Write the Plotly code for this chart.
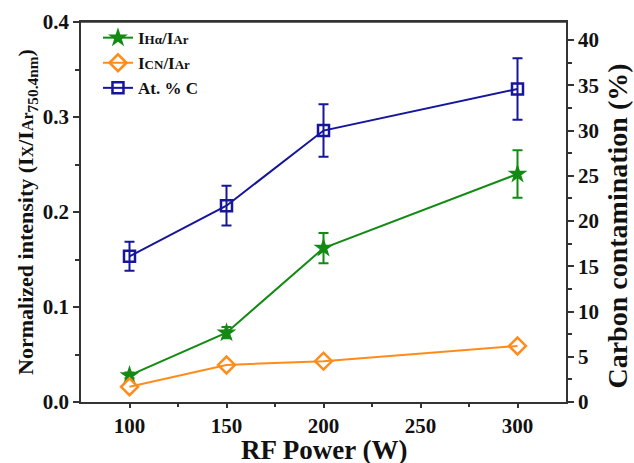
import plotly.graph_objects as go

power = [100, 150, 200, 300]
h_alpha = [0.028, 0.073, 0.162, 0.240]
h_alpha_err = [0.003, 0.006, 0.016, 0.025]
cn = [0.016, 0.039, 0.043, 0.059]
at_c = [16.1, 21.7, 30.0, 34.6]
at_c_err = [1.6, 2.2, 2.9, 3.4]

x_ticks = [100, 150, 200, 250, 300]
y_ticks = [0.0, 0.1, 0.2, 0.3, 0.4]
y2_ticks = [0, 5, 10, 15, 20, 25, 30, 35, 40]

green = "#138a13"
orange = "#ff8c1a"
blue = "#16169c"
font = "Liberation Serif"

def small(t, s=13):
    return f"<span style='font-size:{s}px'><b>{t}</b></span>"

fig = go.Figure()
fig.add_trace(go.Scatter(
    x=power, y=h_alpha, mode="lines+markers", name="<b>I</b>" + small("Hα") + "<b>/I</b>" + small("Ar"),
    line=dict(color=green, width=2), marker=dict(symbol="star", size=15, color=green),
    error_y=dict(type="data", array=h_alpha_err, color=green, thickness=2, width=5)))
fig.add_trace(go.Scatter(
    x=power, y=cn, mode="lines+markers", name="<b>I</b>" + small("CN") + "<b>/I</b>" + small("Ar"),
    line=dict(color=orange, width=2),
    marker=dict(symbol="diamond-open", size=13, color=orange, line=dict(width=2.5))))
fig.add_trace(go.Scatter(
    x=power, y=at_c, mode="lines+markers", name="<b>At. % C</b>", yaxis="y2",
    line=dict(color=blue, width=2),
    marker=dict(symbol="square-open", size=11, color=blue, line=dict(width=2.5)),
    error_y=dict(type="data", array=at_c_err, color=blue, thickness=2, width=5)))

tickfont = dict(family=font, size=21, color="#111")
axcol = "#333"
ytitle = ("<b>Normalized intensity (I</b>" + small("X", 16) + "<b>/I</b>" + small("Ar", 16)
          + "<sub><b>750.4nm</b></sub><b>)</b>")
fig.update_layout(
    width=634, height=463,
    margin=dict(l=81, r=68, t=22, b=61, autoexpand=False),
    paper_bgcolor="white", plot_bgcolor="white",
    font=dict(family=font, color="#111"),
    showlegend=True,
    legend=dict(x=0.035, y=1.005, xanchor="left", yanchor="top",
                font=dict(family=font, size=17, color="#111"),
                bgcolor="rgba(0,0,0,0)", tracegroupgap=0),
    xaxis=dict(range=[75, 325], tickvals=x_ticks, ticktext=[f"<b>{v}</b>" for v in x_ticks],
               ticks="outside", ticklen=4, tickwidth=1.5, tickcolor=axcol,
               minor=dict(tickvals=[125, 175, 225, 275], ticks="outside", ticklen=3, tickcolor=axcol),
               showline=True, linecolor=axcol, linewidth=1.5, mirror=True,
               showgrid=False, zeroline=False, tickfont=tickfont),
    yaxis=dict(range=[0, 0.4], tickvals=y_ticks, ticktext=[f"<b>{v:.1f}</b>" for v in y_ticks],
               ticks="outside", ticklen=6, tickwidth=1.5, tickcolor=axcol,
               minor=dict(tickvals=[0.05, 0.15, 0.25, 0.35], ticks="outside", ticklen=4, tickcolor=axcol),
               showline=True, linecolor=axcol, linewidth=1.5,
               showgrid=False, zeroline=False, tickfont=tickfont,
               title=dict(text=ytitle, font=dict(family=font, size=22), standoff=3)),
    yaxis2=dict(range=[0, 42], overlaying="y", side="right",
                tickvals=y2_ticks, ticktext=[f"<b>{v}</b>" for v in y2_ticks],
                ticks="outside", ticklen=6, tickwidth=1.5, tickcolor=axcol,
                minor=dict(tickvals=[2.5, 7.5, 12.5, 17.5, 22.5, 27.5, 32.5, 37.5], ticks="outside", ticklen=4, tickcolor=axcol),
                showline=True, linecolor=axcol, linewidth=1.5,
                showgrid=False, zeroline=False, tickfont=tickfont),
    shapes=[dict(type="line", xref="paper", yref="paper", x0=0, x1=1, y0=1, y1=1,
                 line=dict(color=axcol, width=1.5))],
    annotations=[
        dict(text="<b>Carbon contamination (%)</b>", textangle=-90, xref="paper", yref="paper",
             x=1.0, y=0.463, xanchor="left", yanchor="middle", xshift=34, showarrow=False,
             font=dict(family=font, size=28, color="#111")),
        dict(text="<b>RF Power (W)</b>", xref="paper", yref="paper",
             x=0.5, y=0.0, xanchor="center", yanchor="middle", yshift=-48, showarrow=False,
             font=dict(family=font, size=27, color="#111")),
    ],
)
fig.write_html("out.html")
